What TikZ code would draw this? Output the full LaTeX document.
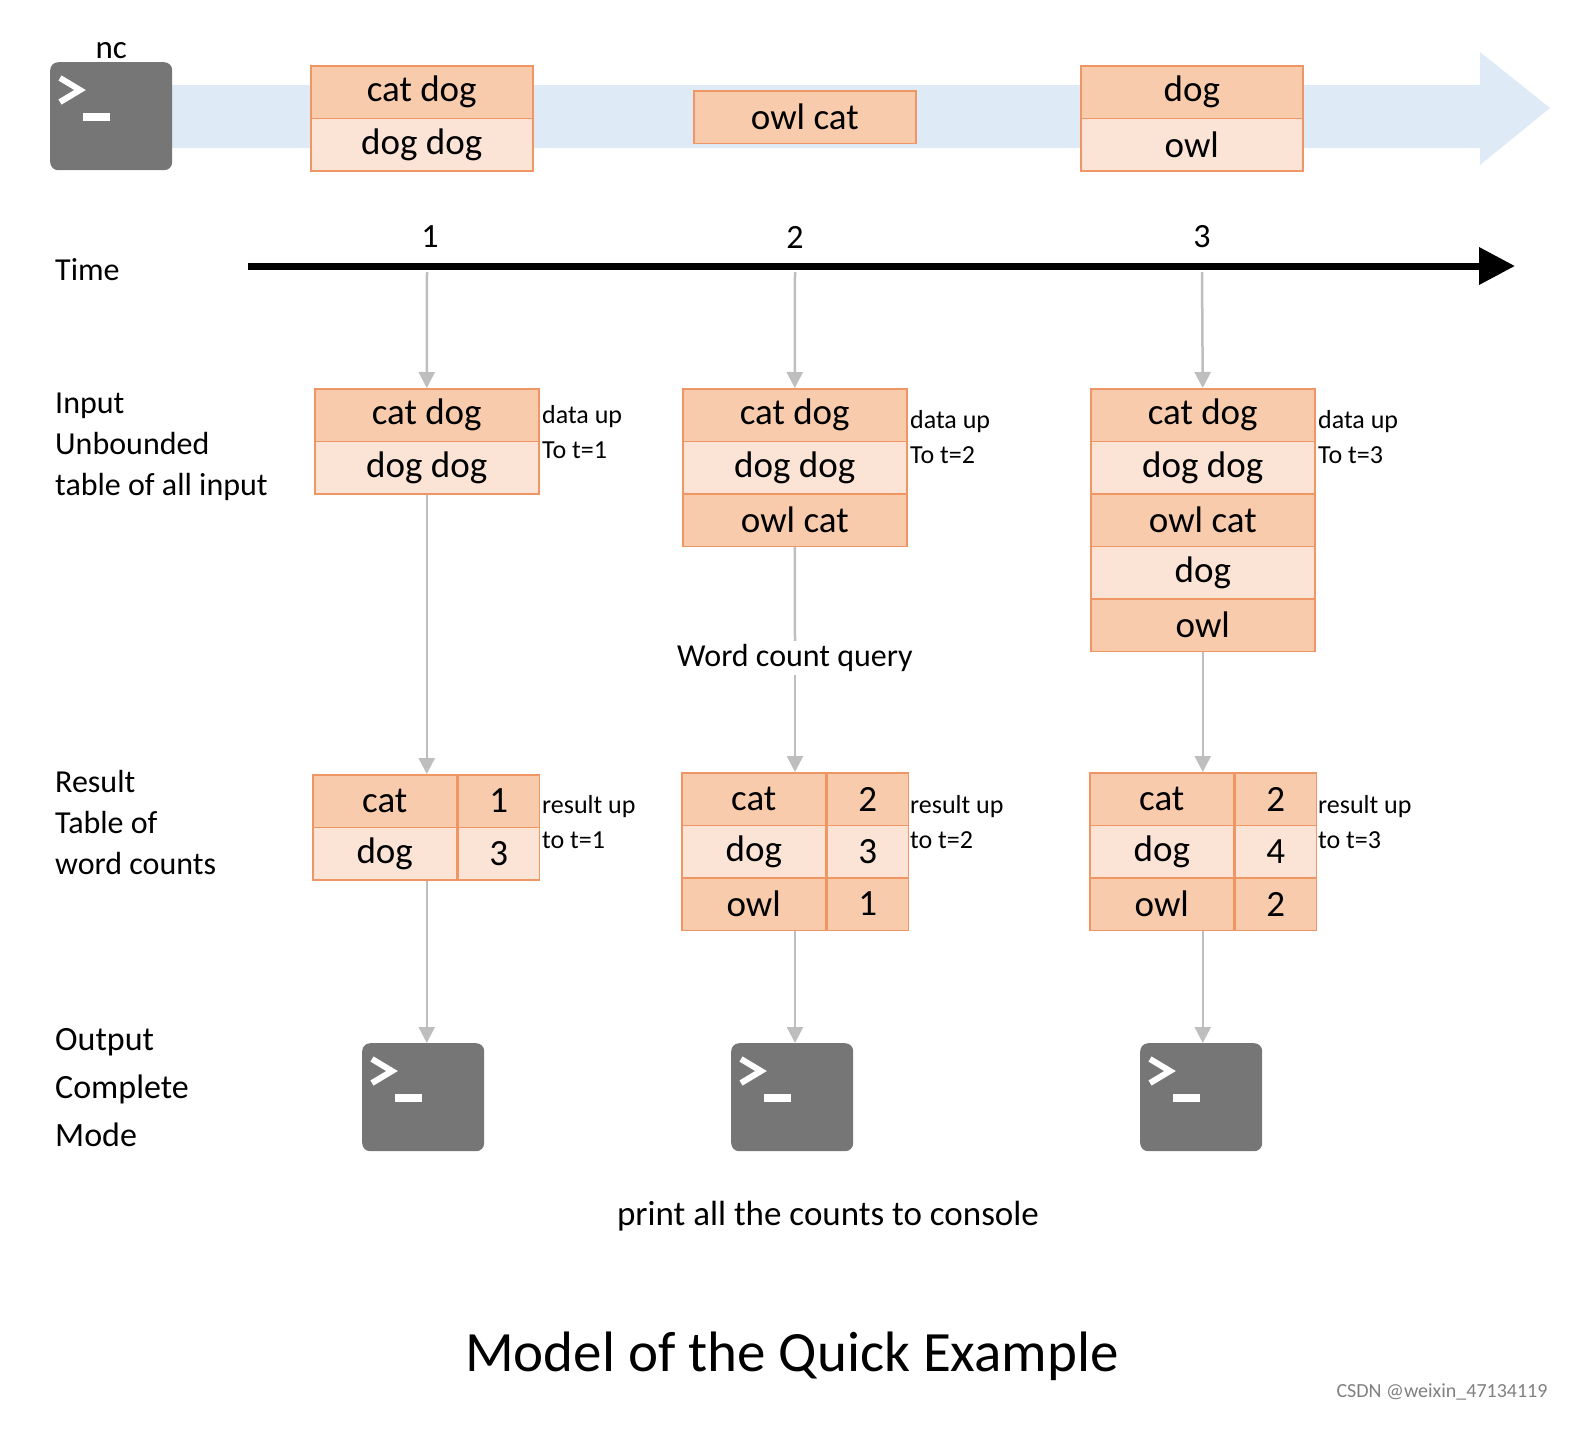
\documentclass[tikz,border=0pt]{standalone}
\usepackage{fontspec}
\setmainfont{Carlito}
\usetikzlibrary{arrows.meta,positioning}

\definecolor{cellDark}{RGB}{248,203,173}
\definecolor{cellLight}{RGB}{251,228,213}
\definecolor{cellLine}{RGB}{240,150,100}
\definecolor{streamBlue}{RGB}{222,234,246}
\definecolor{termGray}{RGB}{118,118,118}
\definecolor{flowGray}{RGB}{190,190,190}

\tikzset{
  cell/.style={draw=cellLine, line width=1.5pt, minimum height=52.5pt, inner sep=0pt,
    font=\fontsize{37}{42}\selectfont, anchor=north west},
  dk/.style={fill=cellDark},
  lt/.style={fill=cellLight},
  term/.style={fill=termGray, rounded corners=8pt, minimum width=122pt, minimum height=108pt,
    inner sep=0pt, anchor=north west},
  flow/.style={draw=flowGray, line width=2.5pt, -{Triangle[width=16pt,length=16pt]}},
  flowline/.style={draw=flowGray, line width=2.5pt},
  lbl/.style={font=\fontsize{32}{41}\selectfont, align=left, anchor=north west, inner sep=0pt},
  note/.style={font=\fontsize{26}{35}\selectfont, align=left, anchor=north west, inner sep=0pt},
}

% terminal icon: name, x, y
\newcommand\termicon[3]{%
  \node[term] (#1) at (#2,#3) {};
  \draw[white, line width=6pt] ([shift={(10pt,-16pt)}]#1.north west) -- ++(20pt,-12pt) -- ++(-20pt,-12pt);
  \draw[white, line width=8pt] ([shift={(33pt,-55pt)}]#1.north west) -- ++(27pt,0);
}
% single-column table: name, x, y, width, rows
\newcommand\wordtable[5]{%
  \foreach \txt/\sty [count=\i] in {#5}
    \node[cell,\sty,minimum width=#4pt] (#1-\i) at (#2,{#3+(\i-1)*52.5}) {\txt};
}
% count table: name, x, y, rows
\newcommand\counttable[4]{%
  \foreach \wrd/\num/\sty [count=\i] in {#4} {
    \node[cell,\sty,minimum width=144pt] (#1-\i) at (#2,{#3+(\i-1)*52.5}) {\wrd};
    \node[cell,\sty,minimum width=81pt,anchor=north west] (#1-\i c) at (#1-\i.north east) {\num};
  }
}

\begin{document}
\begin{tikzpicture}[x=1pt,y=-1pt]
\useasboundingbox (0,0) rectangle (1589,1432);

% stream
\fill[streamBlue] (172,85) -- (1480,85) -- (1480,52) -- (1550,108) -- (1480,165) -- (1480,148) -- (172,148) -- cycle;
\termicon{nc}{50}{62}
\node[font=\fontsize{33}{38}\selectfont, above=0pt of nc] (nclbl) {nc};
\wordtable{s1}{310}{65}{222}{cat dog/dk, dog dog/lt}
\wordtable{s2}{693}{90}{222}{owl cat/dk}
\wordtable{s3}{1080}{65}{222}{dog/dk, owl/lt}

% time axis
\node[lbl] (time) at (55,258) {Time};
\coordinate (ax0) at (248,266);
\coordinate (ax1) at (1515,266);
\draw[line width=7pt, -{Triangle[width=36pt,length=36pt]}] (ax0) -- (ax1);
\coordinate (t1) at (427,272);
\coordinate (t2) at (795,272);
\coordinate (t3) at (1202,272);
\node[font=\fontsize{34}{38}\selectfont] (n1) at (430,237) {1};
\node[font=\fontsize{34}{38}\selectfont] (n2) at (795,237) {2};
\node[font=\fontsize{34}{38}\selectfont] (n3) at (1202,237) {3};

% input tables
\node[lbl] (inlbl) at (55,393) {Input\\Unbounded\\table of all input};
\wordtable{in1}{314}{388}{224}{cat dog/dk, dog dog/lt}
\wordtable{in2}{682}{388}{224}{cat dog/dk, dog dog/lt, owl cat/dk}
\wordtable{in3}{1090}{388}{224}{cat dog/dk, dog dog/lt, owl cat/dk, dog/lt, owl/dk}
\node[note] (d1) at (542,405) {data up\\To t=1};
\node[note] (d2) at (910,410) {data up\\To t=2};
\node[note] (d3) at (1318,410) {data up\\To t=3};
\draw[flow] (t1) -- (in1-1.north);
\draw[flow] (t2) -- (in2-1.north);
\draw[flow] (t3) -- (in3-1.north);

% result tables
\node[lbl] (reslbl) at (55,770) {Result\\Table of\\word counts};
\counttable{r1}{312}{774}{cat/1/dk, dog/3/lt}
\counttable{r2}{681}{772}{cat/2/dk, dog/3/lt, owl/1/dk}
\counttable{r3}{1089}{772}{cat/2/dk, dog/4/lt, owl/2/dk}
\node[note] (e1) at (542,795) {result up\\to t=1};
\node[note] (e2) at (910,795) {result up\\to t=2};
\node[note] (e3) at (1318,795) {result up\\to t=3};
\node[font=\fontsize{32}{36}\selectfont] (query) at (795,658) {Word count query};
\draw[flow] (in1-2.south) -- (in1-2.south |- r1-1.north);
\draw[flowline] (in2-3.south) -- (query.north);
\draw[flow] (query.south) -- (query.south |- r2-1.north);
\draw[flow] (in3-5.south) -- (in3-5.south |- r3-1.north);

% output
\node[lbl, font=\fontsize{34}{48}\selectfont] (outlbl) at (55,1028) {Output\\Complete\\Mode};
\termicon{o1}{362}{1043}
\termicon{o2}{731}{1043}
\termicon{o3}{1140}{1043}
\draw[flow] (in1-2.south |- r1-2.south) -- (in1-2.south |- o1.north);
\draw[flow] (query.south |- r2-3.south) -- (query.south |- o2.north);
\draw[flow] (in3-5.south |- r3-3.south) -- (in3-5.south |- o3.north);
\node[font=\fontsize{35}{40}\selectfont] (print) at (828,1216) {print all the counts to console};

\node[font=\fontsize{57}{64}\selectfont] (title) at (792,1356) {Model of the Quick Example};
\node[font=\fontsize{20}{24}\selectfont, text=gray] (mark) at (1442,1392) {CSDN @weixin\_47134119};
\end{tikzpicture}
\end{document}
